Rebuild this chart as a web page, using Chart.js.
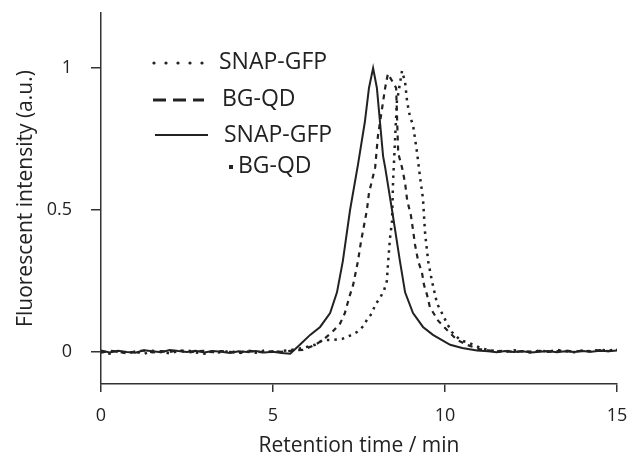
<!DOCTYPE html>
<html>
<head>
<meta charset="utf-8">
<script src="https://cdn.jsdelivr.net/npm/chart.js@4.4.1/dist/chart.umd.min.js"></script>
<style>
  html, body { margin: 0; padding: 0; background: #fff; }
  #wrap { width: 633px; height: 468px; }
</style>
</head>
<body>
<div id="wrap"><canvas id="chart" width="633" height="468"></canvas></div>
<script>
// sample times shared by the flat start of all three traces (min)
const leadTimes = [0, 0.25, 0.5, 0.75, 1, 1.25, 1.5, 1.75, 2, 2.25, 2.5, 2.75, 3, 3.25, 3.5, 3.75, 4, 4.25, 4.5, 4.75, 5, 5.25, 5.5];

// SNAP-GFP·BG-QD (solid)
const conjTimes = leadTimes.concat([
  5.78, 6.08, 6.37, 6.66, 6.86, 7.03, 7.24, 7.47, 7.55, 7.67, 7.79, 7.91,
  8.02, 8.11, 8.2, 8.26, 8.46, 8.69, 8.84, 9.07, 9.36, 9.65, 10.15, 10.5, 10.93,
  11.25, 11.5, 11.75, 12, 12.25, 12.5, 12.75, 13, 13.25, 13.5, 13.75, 14, 14.25, 14.5, 14.75, 15
]);
const conjValues = [
  0.005, -0.002, 0.004, 0.0, -0.003, 0.006, 0.002, -0.001, 0.007, 0.003, 0.0, 0.004,
  -0.002, 0.003, 0.001, -0.004, 0.002, 0.0, 0.003, -0.002, 0.001, -0.004, -0.006,
  0.025, 0.06, 0.088, 0.137, 0.21, 0.32, 0.5, 0.66, 0.72, 0.81, 0.93, 1.0,
  0.93, 0.81, 0.69, 0.65, 0.5, 0.32, 0.21, 0.137, 0.088, 0.06, 0.025, 0.014, 0.005,
  0.002, -0.001, 0.003, 0.0, 0.002, -0.002, 0.001, 0.003, -0.001, 0.002, 0.0, 0.003, 0.001, 0.004, 0.002, 0.005
];

// BG-QD (dashed)
const qdTimes = leadTimes.concat([
  5.87, 6.22, 6.45, 6.72, 6.95, 7.09, 7.21, 7.33, 7.47, 7.56, 7.73, 7.79, 7.97, 8.05, 8.26, 8.34,
  8.58, 8.61, 8.64, 8.75, 8.84, 8.9, 9.01, 9.07, 9.13, 9.22, 9.33, 9.39, 9.48, 9.56, 9.8, 10.06, 10.35, 10.64, 11.0,
  11.25, 11.5, 11.75, 12, 12.25, 12.5, 12.75, 13, 13.25, 13.5, 13.75, 14, 14.25, 14.5, 14.75, 15
]);
const qdValues = [
  -0.003, 0.004, 0.001, -0.005, 0.002, 0.005, -0.002, 0.003, 0.0, 0.006, -0.003, 0.002,
  0.004, -0.001, 0.003, 0.0, -0.004, 0.005, 0.001, -0.002, 0.003, 0.0, 0.004,
  0.007, 0.025, 0.042, 0.07, 0.1, 0.137, 0.19, 0.236, 0.32, 0.39, 0.5, 0.56, 0.65, 0.76, 0.93, 0.98,
  0.93, 0.81, 0.7, 0.65, 0.595, 0.535, 0.48, 0.43, 0.377, 0.32, 0.28, 0.236, 0.2, 0.158, 0.11, 0.077, 0.042, 0.025, 0.01,
  0.006, 0.002, 0.005, -0.001, 0.003, 0.001, 0.004, 0.0, 0.003, 0.005, 0.001, 0.004, 0.002, 0.006, 0.003, 0.008
];

// SNAP-GFP (dotted)
const gfpTimes = leadTimes.concat([
  5.87, 6.22, 6.45, 6.72, 7.01, 7.21, 7.44, 7.62, 7.73, 7.88, 7.97, 8.11, 8.23, 8.31, 8.34, 8.4, 8.46, 8.49, 8.6, 8.75,
  8.84, 8.9, 8.98, 9.07, 9.13, 9.19, 9.27, 9.36, 9.42, 9.51, 9.62, 9.77, 9.91, 10.06, 10.2, 10.44, 10.73, 11.02, 11.3,
  11.5, 11.75, 12, 12.25, 12.5, 12.75, 13, 13.25, 13.5, 13.75, 14, 14.25, 14.5, 14.75, 15
]);
const gfpValues = [
  0.002, -0.006, 0.003, -0.004, 0.001, -0.007, 0.004, 0.0, -0.005, 0.003, 0.006, -0.002,
  -0.006, 0.002, -0.003, 0.004, -0.005, 0.001, -0.003, 0.005, -0.002, 0.003, 0.006,
  0.014, 0.025, 0.042, 0.042, 0.046, 0.056, 0.07, 0.09, 0.113, 0.137, 0.166, 0.19, 0.218, 0.25, 0.306, 0.4, 0.46, 0.6, 0.88, 0.99,
  0.95, 0.88, 0.83, 0.8, 0.75, 0.7, 0.62, 0.54, 0.42, 0.32, 0.25, 0.17, 0.137, 0.1, 0.07, 0.042, 0.03, 0.015, 0.005,
  0.004, 0.0, 0.006, 0.002, -0.002, 0.005, 0.001, 0.007, 0.003, -0.001, 0.005, 0.002, 0.008, 0.004, 0.01
];

const xTicks = [0, 5, 10, 15];
const yTicks = [0, 0.5, 1];
const legendLabels = ["SNAP-GFP", "BG-QD", "SNAP-GFP", "BG-QD"];

const ink = "#222";
const axisInk = "#333";
const fontFamily = "'Open Sans', sans-serif";

function points(times, values) {
  return times.map((t, i) => ({ x: t, y: values[i] }));
}

// legend is drawn inside the plot, the way the figure has it
const insideLegend = {
  id: "insideLegend",
  afterDatasetsDraw(chart) {
    const ctx = chart.ctx;
    ctx.save();
    ctx.strokeStyle = ink;
    ctx.fillStyle = ink;
    ctx.font = "23px " + fontFamily;
    ctx.textBaseline = "middle";

    // dotted
    for (let x = 154; x <= 202; x += 12) {
      ctx.beginPath();
      ctx.arc(x, 63, 1.6, 0, Math.PI * 2);
      ctx.fill();
    }
    ctx.fillText(legendLabels[0], 219, 62);

    // dashed
    ctx.lineWidth = 3;
    ctx.setLineDash([13, 7]);
    ctx.beginPath();
    ctx.moveTo(153, 100);
    ctx.lineTo(204, 100);
    ctx.stroke();
    ctx.fillText(legendLabels[1], 222, 99);

    // solid
    ctx.setLineDash([]);
    ctx.lineWidth = 2;
    ctx.beginPath();
    ctx.moveTo(155, 135);
    ctx.lineTo(208, 135);
    ctx.stroke();
    ctx.fillText(legendLabels[2], 224, 135);

    ctx.fillRect(229, 165, 4, 4);
    ctx.fillText(legendLabels[3], 238, 166);
    ctx.restore();
  },
};

new Chart(document.getElementById("chart"), {
  type: "line",
  data: {
    datasets: [
      {
        label: "SNAP-GFP",
        data: points(gfpTimes, gfpValues),
        borderColor: ink,
        borderWidth: 2.5,
        borderDash: [2.5, 5],
      },
      {
        label: "BG-QD",
        data: points(qdTimes, qdValues),
        borderColor: ink,
        borderWidth: 2.2,
        borderDash: [5, 5],
      },
      {
        label: "SNAP-GFP·BG-QD",
        data: points(conjTimes, conjValues),
        borderColor: ink,
        borderWidth: 2,
      },
    ],
  },
  options: {
    responsive: false,
    animation: false,
    parsing: false,
    elements: { point: { radius: 0 }, line: { tension: 0 } },
    layout: { padding: { top: 13, right: 16, left: 0, bottom: 0 } },
    plugins: { legend: { display: false }, tooltip: { enabled: false } },
    scales: {
      x: {
        type: "linear",
        min: 0,
        max: 15,
        afterBuildTicks: (scale) => { scale.ticks = xTicks.map((v) => ({ value: v })); },
        afterFit: (scale) => {
          scale.height = 84;
          scale.paddingLeft = 0;
          scale.paddingRight = 0;
        },
        border: { display: true, color: axisInk, width: 1.5 },
        grid: { drawOnChartArea: false, drawTicks: true, tickLength: 8, color: axisInk, lineWidth: 1.5 },
        ticks: { color: ink, padding: 13, font: { size: 18, family: fontFamily }, maxRotation: 0 },
        title: {
          display: true,
          text: "Retention time / min",
          color: ink,
          font: { size: 21, family: fontFamily },
          padding: { top: 0, bottom: 9 },
        },
      },
      y: {
        type: "linear",
        min: -0.113,
        max: 1.194,
        afterBuildTicks: (scale) => { scale.ticks = yTicks.map((v) => ({ value: v })); },
        afterFit: (scale) => {
          scale.width = 101;
          scale.paddingTop = 0;
          scale.paddingBottom = 0;
        },
        border: { display: true, color: axisInk, width: 1.5 },
        grid: { drawOnChartArea: false, drawTicks: true, tickLength: 10, color: axisInk, lineWidth: 1.5 },
        ticks: { color: ink, padding: 19, font: { size: 18, family: fontFamily }, callback: (v) => String(v) },
        title: {
          display: true,
          text: "Fluorescent intensity (a.u.)",
          color: ink,
          font: { size: 21, family: fontFamily },
          padding: { top: 13, bottom: 0 },
        },
      },
    },
  },
  plugins: [insideLegend],
});
</script>
</body>
</html>
